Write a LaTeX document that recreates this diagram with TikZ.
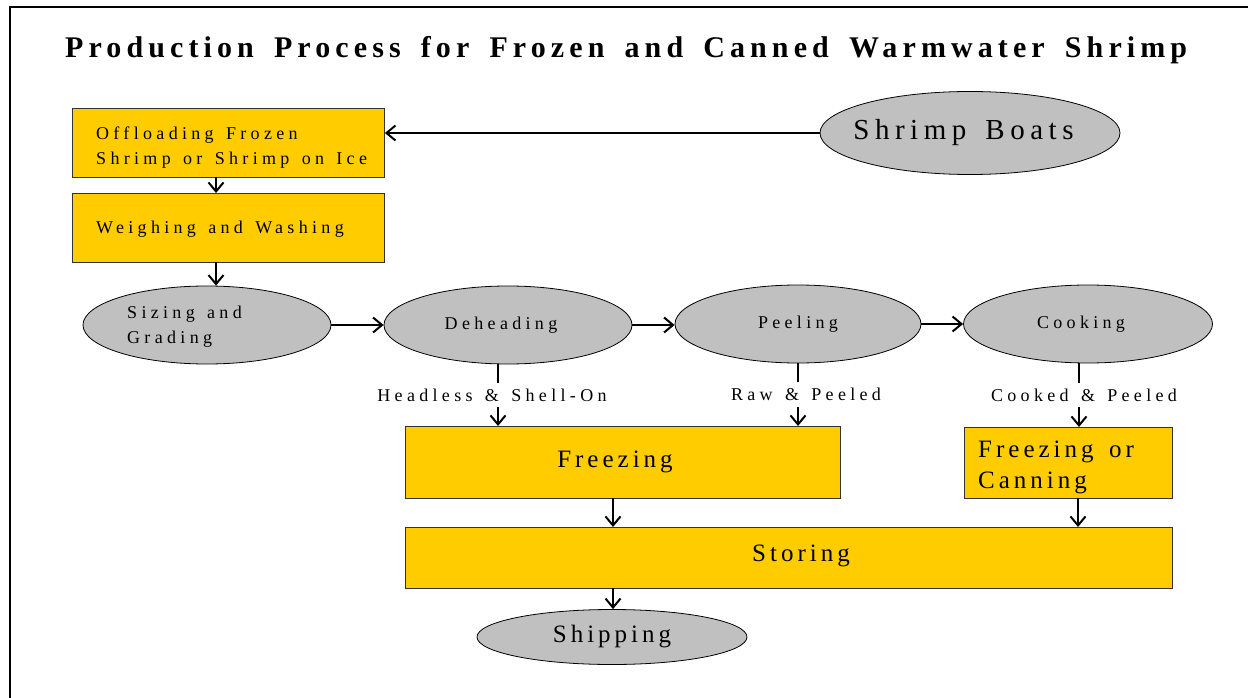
\documentclass[tikz,border=0pt]{standalone}
\usepackage{fontspec}
\setmainfont{Liberation Serif}
\newfontfamily\spc[LetterSpace=24,WordSpace=1.4]{Liberation Serif}
\newfontfamily\spcbig[LetterSpace=16,WordSpace=1.5]{Liberation Serif}
\newfontfamily\spcboat[LetterSpace=19,WordSpace=1.5]{Liberation Serif}
\newfontfamily\spct[LetterSpace=17,WordSpace=1.6]{Liberation Serif}
\usetikzlibrary{shapes.geometric,arrows.meta}
\definecolor{shy}{HTML}{FFCC00}
\definecolor{shg}{HTML}{C0C0C0}
\definecolor{edgec}{HTML}{333333}
\tikzset{
  ybox/.style={draw=edgec, line width=0.9pt, fill=shy, rectangle, inner sep=0pt, anchor=north west},
  gell/.style={draw=black, line width=0.8pt, fill=shg, ellipse, inner sep=0pt},
  arr/.style={line width=1.8pt, -{Straight Barb[length=9pt,width=15pt,line width=2pt]}},
  lab/.style={fill=white, inner xsep=2pt, inner ysep=6pt, font=\spc\fontsize{18}{20}\selectfont},
  smallt/.style={font=\spc\fontsize{18}{25}\selectfont},
  bigt/.style={font=\spcbig\fontsize{25}{31}\selectfont},
  txt/.style={inner sep=0pt, align=left},
}
\begin{document}
\begin{tikzpicture}[x=1pt,y=-1pt]
\useasboundingbox (0,0) rectangle (1248,698);
\fill[white] (0,0) rectangle (1248,698);
\draw[line width=1.5pt] (10,705) -- (10,7) -- (1255,7);
\node[anchor=base west, inner sep=0pt, font=\spct\bfseries\fontsize{30}{32}\selectfont] (title) at (65,58) {Production Process for Frozen and Canned Warmwater Shrimp};

\node[ybox, minimum width=312pt, minimum height=69pt] (off) at (72,108) {};
\node[txt, smallt, anchor=west] (offt) at (96,147.3) {Offloading Frozen\\Shrimp or Shrimp on Ice};
\node[ybox, minimum width=312pt, minimum height=69pt] (weigh) at (72,193) {};
\node[txt, smallt, anchor=base west] (weight) at (96,233) {Weighing and Washing};
\node[gell, minimum width=300pt, minimum height=83pt, font=\spcboat\fontsize{29}{32}\selectfont] (boats) at (970,133) {\kern-13pt Shrimp Boats};

\node[gell, minimum width=248pt, minimum height=78pt] (size) at (207,325) {};
\node[txt, smallt, anchor=west] (sizet) at (127,327) {Sizing and\\Grading};
\node[gell, minimum width=248pt, minimum height=78pt, smallt] (dehead) at (508,325) {\kern-14pt Deheading};
\node[gell, minimum width=246pt, minimum height=78pt, smallt] (peel) at (798,324) {Peeling};
\node[gell, minimum width=249pt, minimum height=78pt, smallt] (cook) at (1088,324) {\kern-14pt Cooking};

\node[ybox, minimum width=435pt, minimum height=72pt] (freeze) at (405,426) {};
\node[bigt, inner sep=0pt] (freezet) at (615,462) {Freezing};
\node[ybox, minimum width=208pt, minimum height=71pt] (fcan) at (964,427) {};
\node[txt, bigt, anchor=west] (fcant) at (978,467.5) {Freezing or\\Canning};
\node[ybox, minimum width=767pt, minimum height=61pt] (store) at (405,527) {};
\node[bigt, inner sep=0pt] (storet) at (801,556) {Storing};
\node[gell, minimum width=270pt, minimum height=55pt, bigt] (ship) at (612,637) {Shipping};

\coordinate (c1) at (216,177);
\coordinate (c2) at (216,262);
\coordinate (d1) at (498,364);
\coordinate (p1) at (798,363);
\coordinate (k1) at (1079,363);
\coordinate (f1) at (613,498);
\coordinate (g1) at (1078,498);
\coordinate (s1) at (613,588);

\draw[arr] (boats.west) -- (off.east |- boats.west);
\draw[arr] (c1) -- (c1 |- weigh.north);
\draw[arr] (c2) -- (c2 |- size.north);
\draw[arr] (size.east) -- (dehead.west);
\draw[arr] (dehead.east) -- (peel.west |- dehead.east);
\draw[arr] (peel.east) -- (cook.west);
\draw[arr] (d1) -- node[lab, xshift=-6pt]{Headless \& Shell-On} (d1 |- freeze.north);
\draw[arr] (p1) -- node[lab, xshift=8pt]{Raw \& Peeled} (p1 |- freeze.north);
\draw[arr] (k1) -- node[lab, xshift=5pt]{Cooked \& Peeled} (k1 |- fcan.north);
\draw[arr] (f1) -- (f1 |- store.north);
\draw[arr] (g1) -- (g1 |- store.north);
\draw[arr] (s1) -- (s1 |- ship.north);
\end{tikzpicture}
\end{document}
